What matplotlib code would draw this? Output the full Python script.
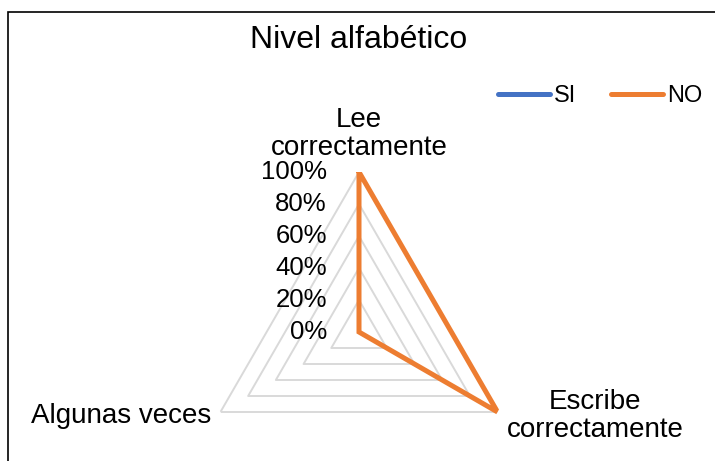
import numpy as np
import matplotlib
matplotlib.use("Agg")
import matplotlib.pyplot as plt
from matplotlib.lines import Line2D
from matplotlib.patches import Rectangle

# ==========================================================
# DATA
# ==========================================================

categories = [
    "Lee\ncorrectamente",
    "Escribe\ncorrectamente",
    "Algunas veces"
]

si_values = [0.0, 0.0, 0.0]

no_values = [1.0, 1.0, 0.0]

ring_values = [0.0, 0.2, 0.4, 0.6, 0.8, 1.0]

ring_labels = ["0%", "20%", "40%", "60%", "80%", "100%"]

series_names = ["SI", "NO"]

title = "Nivel alfabético"

# ==========================================================
# STYLE
# ==========================================================

plt.rcParams["font.family"] = ["Liberation Sans", "DejaVu Sans"]

color_si = "#4472C4"
color_no = "#ED7D31"
color_grid = "#D9D9D9"

W, H = 715, 461

fig = plt.figure(figsize=(W / 100, H / 100), dpi=100)

# radar centre (359, 332) px, radius 160 px
cx, cy, R = 359, 332, 160

ax = fig.add_axes(
    [(cx - R) / W, (H - cy - R) / H, 2 * R / W, 2 * R / H],
    projection="polar"
)

ax.set_theta_zero_location("N")
ax.set_theta_direction(-1)
ax.set_ylim(0, 1)
ax.set_xticks([])
ax.set_yticks([])
ax.grid(False)
ax.spines["polar"].set_visible(False)
ax.patch.set_visible(False)

angles = np.linspace(0, 2 * np.pi, len(categories), endpoint=False)
closed = np.append(angles, angles[0])

# ==========================================================
# GRID RINGS
# ==========================================================

for v in ring_values[1:]:
    ax.plot(
        closed,
        [v] * len(closed),
        color=color_grid,
        lw=1.4,
        zorder=1
    )

for v, lab in zip(ring_values, ring_labels):
    ax.annotate(
        lab,
        xy=(0, v),
        xytext=(-32, 0),
        textcoords="offset pixels",
        ha="right",
        va="center",
        fontsize=18.5,
        color="#000000"
    )

# ==========================================================
# SERIES
# ==========================================================

ax.plot(
    closed,
    si_values + si_values[:1],
    color=color_si,
    lw=3.6,
    zorder=3
)

ax.plot(
    closed,
    no_values + no_values[:1],
    color=color_no,
    lw=3.6,
    solid_joinstyle="miter",
    zorder=4
)

# ==========================================================
# CATEGORY LABELS
# ==========================================================

label_specs = [
    ((0, 11), "center", "bottom"),
    ((9, -4), "left", "center"),
    ((-9, -4), "right", "center"),
]

for ang, cat, (off, ha, va) in zip(angles, categories, label_specs):
    ax.annotate(
        cat,
        xy=(ang, 1),
        xytext=off,
        textcoords="offset pixels",
        ha=ha,
        va=va,
        multialignment="center",
        fontsize=20,
        linespacing=1.12
    )

# ==========================================================
# TITLE, LEGEND, BORDER
# ==========================================================

fig.text(
    cx / W,
    (H - 48) / H,
    title,
    ha="center",
    va="baseline",
    fontsize=23
)

handles = [
    Line2D([0], [0], color=color_si, lw=3.6, solid_capstyle="round"),
    Line2D([0], [0], color=color_no, lw=3.6, solid_capstyle="round"),
]

fig.legend(
    handles,
    series_names,
    loc="center",
    bbox_to_anchor=(600 / W, (H - 96) / H),
    ncol=2,
    frameon=False,
    fontsize=17,
    handlelength=2.2,
    handletextpad=0.15,
    columnspacing=1.5
)

fig.patches.append(
    Rectangle(
        (8 / W, -0.1),
        1.2,
        (H - 12) / H + 0.1,
        transform=fig.transFigure,
        fill=False,
        edgecolor="#000000",
        lw=1.2,
        clip_on=False
    )
)

fig.savefig("out.png", dpi=100)
